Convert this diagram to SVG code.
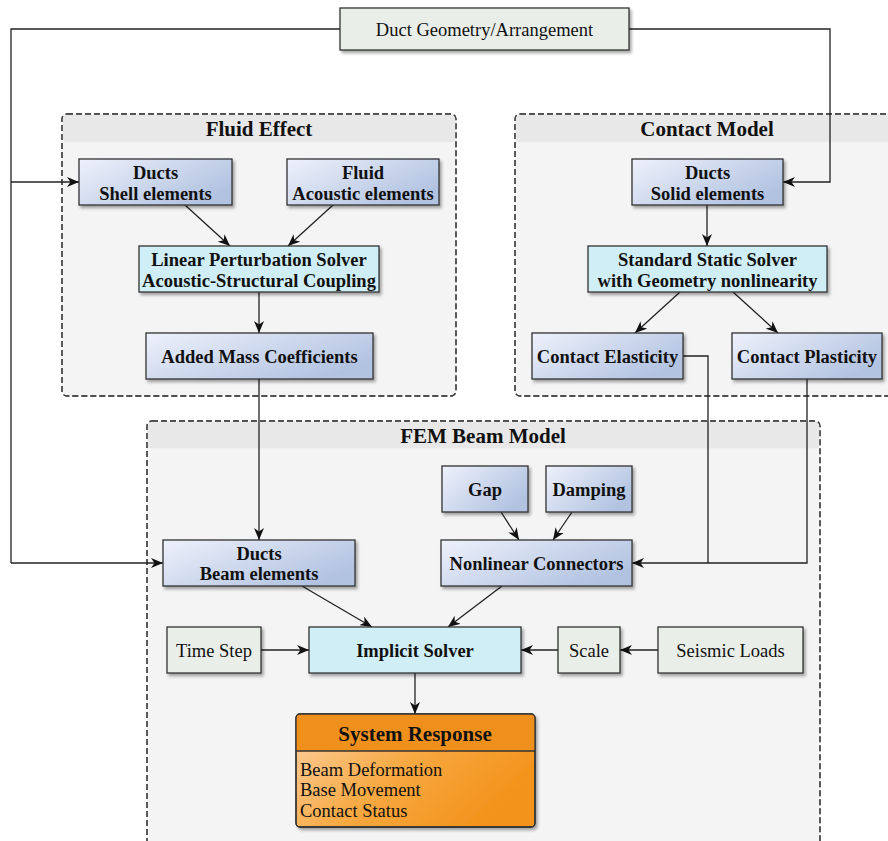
<svg xmlns="http://www.w3.org/2000/svg" width="888" height="841" viewBox="0 0 888 841">
<defs>
<linearGradient id="blue" x1="0" y1="0" x2="1" y2="0.6">
<stop offset="0" stop-color="#eef1fb"/>
<stop offset="1" stop-color="#b2c3e1"/>
</linearGradient>
<linearGradient id="orange" x1="0" y1="0" x2="1" y2="0.5">
<stop offset="0" stop-color="#fdd2a6"/>
<stop offset="0.55" stop-color="#f7a840"/>
<stop offset="1" stop-color="#f3931c"/>
</linearGradient>
<filter id="sh" x="-10%" y="-20%" width="130%" height="150%">
<feDropShadow dx="2" dy="2.5" stdDeviation="1.5" flood-color="#000" flood-opacity="0.35"/>
</filter>
<marker id="arr" viewBox="0 0 12 10" refX="12" refY="5" markerWidth="12" markerHeight="10" markerUnits="userSpaceOnUse" orient="auto">
<path d="M0,0 L12,5 L0,10 L3.5,5 z" fill="#111"/>
</marker>
<style>
.grp{fill:#f4f4f4;stroke:#444;stroke-width:1.3;stroke-dasharray:6 3}
.hdr{fill:#e8e8e8}
.gt{font-weight:bold;font-size:21px;text-anchor:middle;fill:#111}
.nb{fill:url(#blue);stroke:#333;stroke-width:1.3;filter:url(#sh)}
.nc{fill:#d0eef5;stroke:#333;stroke-width:1.3;filter:url(#sh)}
.ng{fill:#e9eee9;stroke:#333;stroke-width:1.3;filter:url(#sh)}
.tb{font-weight:bold;font-size:18.5px;text-anchor:middle;fill:#111}
.tr{font-size:18.5px;text-anchor:middle;fill:#111}
.tl{font-size:18.5px;fill:#111}
.c{fill:none;stroke:#222;stroke-width:1.3}
.ca{fill:none;stroke:#222;stroke-width:1.3;marker-end:url(#arr)}
</style>
</defs>
<rect width="888" height="841" fill="#fff"/>
<g font-family="Liberation Serif, Times New Roman, serif">
<g id="group-fluid">
<rect class="grp" x="62" y="114" width="394" height="282" rx="5"/>
<rect class="hdr" x="62.7" y="114.7" width="392.6" height="27.5" rx="4"/>
<rect x="62" y="114" width="394" height="282" rx="5" fill="none" stroke="#444" stroke-width="1.3" stroke-dasharray="6 3"/>
<text class="gt" x="259" y="136">Fluid Effect</text>
</g>
<g id="group-contact">
<rect class="grp" x="515" y="114" width="380" height="282" rx="5"/>
<rect class="hdr" x="515.7" y="114.7" width="378" height="27.5" rx="4"/>
<rect x="515" y="114" width="380" height="282" rx="5" fill="none" stroke="#444" stroke-width="1.3" stroke-dasharray="6 3"/>
<text class="gt" x="707" y="136">Contact Model</text>
</g>
<g id="group-fem">
<rect class="grp" x="147" y="421" width="673" height="440" rx="5"/>
<rect class="hdr" x="147.7" y="421.7" width="671.6" height="26.5" rx="4"/>
<rect x="147" y="421" width="673" height="440" rx="5" fill="none" stroke="#444" stroke-width="1.3" stroke-dasharray="6 3"/>
<text class="gt" x="483" y="443">FEM Beam Model</text>
</g>

<g id="connectors">
<path class="c" d="M340,29 H11 V563"/>
<path class="ca" d="M11,182 H79"/>
<path class="ca" d="M11,563 H163"/>
<path class="ca" d="M629,29 H830 V182 H783"/>
<path class="ca" d="M185,205 L230,246"/>
<path class="ca" d="M333,205 L288,246"/>
<path class="ca" d="M259,292 V333"/>
<path class="ca" d="M259,379 V540"/>
<path class="ca" d="M707,205 V246"/>
<path class="ca" d="M680,292 L635,333"/>
<path class="ca" d="M733,292 L778,333"/>
<path class="c" d="M683,356 H708 V563"/>
<path class="ca" d="M807,379 V563 H632"/>
<path class="ca" d="M501,512 L519,540"/>
<path class="ca" d="M572,512 L553,540"/>
<path class="ca" d="M302,586 L372,627"/>
<path class="ca" d="M502,586 L448,627"/>
<path class="ca" d="M261,650 H309"/>
<path class="ca" d="M558,650 H521"/>
<path class="ca" d="M658,650 H620"/>
<path class="ca" d="M415,673 V714"/>
</g>

<g id="duct-geometry">
<rect class="ng" x="340" y="8" width="289" height="42"/>
<text class="tr" x="484.5" y="35.5">Duct Geometry/Arrangement</text>
</g>
<g id="ducts-shell">
<rect class="nb" x="79" y="159" width="153" height="46"/>
<text class="tb" x="155.5" y="179">Ducts</text>
<text class="tb" x="155.5" y="199.5">Shell elements</text>
</g>
<g id="fluid-acoustic">
<rect class="nb" x="287" y="159" width="152" height="46"/>
<text class="tb" x="363" y="179">Fluid</text>
<text class="tb" x="363" y="199.5">Acoustic elements</text>
</g>
<g id="linear-perturbation">
<rect class="nc" x="139" y="246" width="240" height="46"/>
<text class="tb" x="259" y="266">Linear Perturbation Solver</text>
<text class="tb" x="259" y="287">Acoustic-Structural Coupling</text>
</g>
<g id="added-mass">
<rect class="nb" x="146" y="333" width="227" height="46"/>
<text class="tb" x="259.5" y="362.5">Added Mass Coefficients</text>
</g>
<g id="ducts-solid">
<rect class="nb" x="632" y="159" width="151" height="46"/>
<text class="tb" x="707.5" y="179">Ducts</text>
<text class="tb" x="707.5" y="199.5">Solid elements</text>
</g>
<g id="standard-static">
<rect class="nc" x="588" y="246" width="239" height="46"/>
<text class="tb" x="707.5" y="266">Standard Static Solver</text>
<text class="tb" x="707.5" y="287">with Geometry nonlinearity</text>
</g>
<g id="contact-elasticity">
<rect class="nb" x="532" y="333" width="151" height="46"/>
<text class="tb" x="607.5" y="362.5">Contact Elasticity</text>
</g>
<g id="contact-plasticity">
<rect class="nb" x="732" y="333" width="150" height="46"/>
<text class="tb" x="807" y="362.5">Contact Plasticity</text>
</g>
<g id="gap">
<rect class="nb" x="442" y="466" width="86" height="46"/>
<text class="tb" x="485" y="495.5">Gap</text>
</g>
<g id="damping">
<rect class="nb" x="546" y="466" width="86" height="46"/>
<text class="tb" x="589" y="495.5">Damping</text>
</g>
<g id="ducts-beam">
<rect class="nb" x="163" y="540" width="192" height="46"/>
<text class="tb" x="259" y="560">Ducts</text>
<text class="tb" x="259" y="580">Beam elements</text>
</g>
<g id="nonlinear-connectors">
<rect class="nb" x="441" y="540" width="191" height="46"/>
<text class="tb" x="536.5" y="569.5">Nonlinear Connectors</text>
</g>
<g id="time-step">
<rect class="ng" x="167" y="627" width="94" height="46"/>
<text class="tr" x="214" y="656.5">Time Step</text>
</g>
<g id="implicit-solver">
<rect class="nc" x="309" y="627" width="212" height="46"/>
<text class="tb" x="415" y="656.5">Implicit Solver</text>
</g>
<g id="scale">
<rect class="ng" x="558" y="627" width="62" height="46"/>
<text class="tr" x="589" y="656.5">Scale</text>
</g>
<g id="seismic-loads">
<rect class="ng" x="658" y="627" width="145" height="46"/>
<text class="tr" x="730.5" y="656.5">Seismic Loads</text>
</g>
<g id="system-response">
<rect x="296" y="714" width="239" height="113" rx="4" fill="url(#orange)" stroke="#333" stroke-width="1.3" filter="url(#sh)"/>
<path d="M296,751 V718 Q296,714 300,714 H531 Q535,714 535,718 V751 Z" fill="#f0901c"/>
<rect x="296" y="714" width="239" height="113" rx="4" fill="none" stroke="#333" stroke-width="1.3"/>
<line x1="296" y1="751" x2="535" y2="751" stroke="#333" stroke-width="1.3"/>
<text class="gt" x="415" y="741">System Response</text>
<text class="tl" x="300" y="775.5">Beam Deformation</text>
<text class="tl" x="300" y="796">Base Movement</text>
<text class="tl" x="300" y="816.5">Contact Status</text>
</g>
</g>
</svg>
